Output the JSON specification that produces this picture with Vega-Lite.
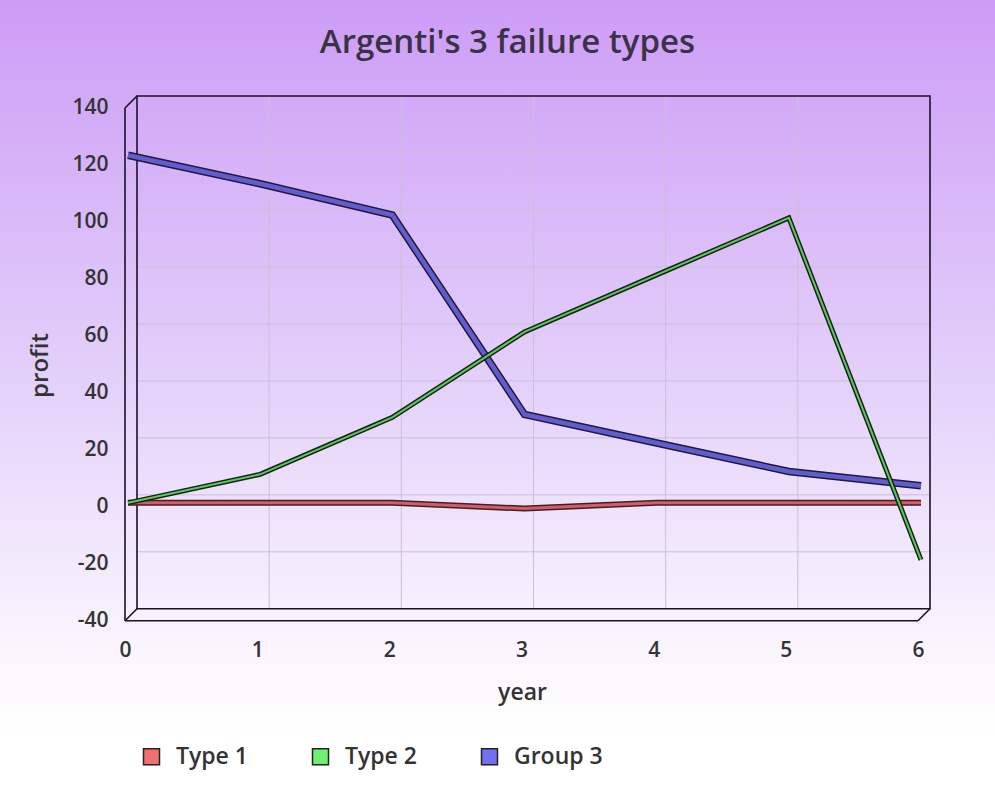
{
  "$schema": "https://vega.github.io/schema/vega-lite/v6.json",
  "width": 995,
  "height": 800,
  "autosize": {"type": "none"},
  "padding": 0,
  "background": "#ffffff",
  "title": {"text": "Argenti's 3 failure types", "anchor": "middle", "frame": "group", "baseline": "alphabetic", "offset": 0, "dy": 86, "dx": 10, "fontSize": 33, "font": "Open Sans", "fontWeight": 600, "color": "#3a3345"},
  "view": {
    "stroke": null,
    "fill": {"gradient": "linear", "x1": 0, "y1": 0, "x2": 0, "y2": 1,
      "stops": [
        {"offset": 0, "color": "#cc9cf6"},
        {"offset": 0.5, "color": "#e5d3fa"},
        {"offset": 0.78, "color": "#f8f2fd"},
        {"offset": 0.92, "color": "#ffffff"},
        {"offset": 1, "color": "#ffffff"}
      ]}
  },
  "data": {"values": [
    {"year": 0, "series": "Type 1", "profit": 0},
    {"year": 1, "series": "Type 1", "profit": 0},
    {"year": 2, "series": "Type 1", "profit": 0},
    {"year": 3, "series": "Type 1", "profit": -2},
    {"year": 4, "series": "Type 1", "profit": 0},
    {"year": 5, "series": "Type 1", "profit": 0},
    {"year": 6, "series": "Type 1", "profit": 0},
    {"year": 0, "series": "Type 2", "profit": 0},
    {"year": 1, "series": "Type 2", "profit": 10},
    {"year": 2, "series": "Type 2", "profit": 30},
    {"year": 3, "series": "Type 2", "profit": 60},
    {"year": 4, "series": "Type 2", "profit": 80},
    {"year": 5, "series": "Type 2", "profit": 100},
    {"year": 6, "series": "Type 2", "profit": -20},
    {"year": 0, "series": "Group 3", "profit": 122},
    {"year": 1, "series": "Group 3", "profit": 112},
    {"year": 2, "series": "Group 3", "profit": 101},
    {"year": 3, "series": "Group 3", "profit": 31},
    {"year": 4, "series": "Group 3", "profit": 21},
    {"year": 5, "series": "Group 3", "profit": 11},
    {"year": 6, "series": "Group 3", "profit": 6}
  ]},
  "layer": [
    {
      "data": {"values": [{"year": 1}, {"year": 2}, {"year": 3}, {"year": 4}, {"year": 5}]},
      "mark": {"type": "rule", "color": "#c9bfd6", "strokeWidth": 1, "xOffset": 12, "yOffset": -12, "y2Offset": -12},
      "encoding": {
        "x": {"field": "year", "type": "quantitative", "scale": {"domain": [-0.9458, 6.5826], "nice": false, "zero": false}},
        "y": {"datum": -40, "type": "quantitative", "scale": {"domain": [-102.9, 177.9], "nice": false, "zero": false}},
        "y2": {"datum": 140}
      }
    },
    {
      "data": {"values": [{"profit": -20}, {"profit": 0}, {"profit": 20}, {"profit": 40}, {"profit": 60}, {"profit": 80}, {"profit": 100}, {"profit": 120}]},
      "mark": {"type": "rule", "color": "#c9bfd6", "strokeWidth": 1, "xOffset": 12, "x2Offset": 12, "yOffset": -12},
      "encoding": {
        "y": {"field": "profit", "type": "quantitative"},
        "x": {"datum": 0, "type": "quantitative"},
        "x2": {"datum": 6}
      }
    },
    {
      "data": {"values": [{}]},
      "mark": {"type": "rect", "fill": null, "stroke": "#1c1228", "strokeWidth": 1.6, "xOffset": 12, "x2Offset": 12, "yOffset": -12, "y2Offset": -12},
      "encoding": {
        "x": {"datum": 0, "type": "quantitative"},
        "x2": {"datum": 6},
        "y": {"datum": -40, "type": "quantitative"},
        "y2": {"datum": 140}
      }
    },
    {
      "data": {"values": [{}]},
      "mark": {"type": "rule", "color": "#1c1228", "strokeWidth": 1.6},
      "encoding": {
        "x": {"datum": 0, "type": "quantitative"},
        "y": {"datum": -40, "type": "quantitative"},
        "y2": {"datum": 140}
      }
    },
    {
      "data": {"values": [{}]},
      "mark": {"type": "rule", "color": "#1c1228", "strokeWidth": 1.6},
      "encoding": {
        "y": {"datum": -40, "type": "quantitative"},
        "x": {"datum": 0, "type": "quantitative"},
        "x2": {"datum": 6}
      }
    },
    {
      "data": {"values": [{}]},
      "mark": {"type": "rule", "color": "#1c1228", "strokeWidth": 1.6, "x2Offset": 12, "y2Offset": -12},
      "encoding": {
        "x": {"datum": 0, "type": "quantitative"},
        "x2": {"datum": 0},
        "y": {"datum": 140, "type": "quantitative"},
        "y2": {"datum": 140}
      }
    },
    {
      "data": {"values": [{}]},
      "mark": {"type": "rule", "color": "#1c1228", "strokeWidth": 1.6, "x2Offset": 12, "y2Offset": -12},
      "encoding": {
        "x": {"datum": 0, "type": "quantitative"},
        "x2": {"datum": 0},
        "y": {"datum": -40, "type": "quantitative"},
        "y2": {"datum": -40}
      }
    },
    {
      "data": {"values": [{}]},
      "mark": {"type": "rule", "color": "#1c1228", "strokeWidth": 1.6, "x2Offset": 12, "y2Offset": -12},
      "encoding": {
        "x": {"datum": 6, "type": "quantitative"},
        "x2": {"datum": 6},
        "y": {"datum": -40, "type": "quantitative"},
        "y2": {"datum": -40}
      }
    },
    {
      "transform": [{"filter": "false"}],
      "mark": {"type": "square", "filled": true, "strokeWidth": 1.5, "opacity": 1},
      "encoding": {
        "x": {"field": "year", "type": "quantitative"},
        "y": {"field": "profit", "type": "quantitative"},
        "stroke": {"field": "series", "type": "nominal",
          "scale": {"domain": ["Type 1", "Type 2", "Group 3"], "range": ["#222222", "#222222", "#222222"]},
          "legend": {"orient": "none", "legendX": 140, "legendY": 745, "direction": "horizontal", "title": null, "symbolType": "square", "symbolSize": 256, "symbolStrokeWidth": 1.5, "symbolOpacity": 1, "labelFont": "Open Sans", "labelFontSize": 23, "labelFontWeight": 600, "labelColor": "#333333", "labelOffset": 13, "columnPadding": 44, "gridAlign": "all"}},
        "fill": {"field": "series", "type": "nominal",
          "scale": {"domain": ["Type 1", "Type 2", "Group 3"], "range": ["#f07070", "#70f070", "#7070f0"]},
          "legend": {"orient": "none", "legendX": 140, "legendY": 745, "direction": "horizontal", "title": null, "symbolType": "square", "symbolSize": 256, "symbolStrokeWidth": 1.5, "symbolOpacity": 1, "labelFont": "Open Sans", "labelFontSize": 23, "labelFontWeight": 600, "labelColor": "#333333", "labelOffset": 13, "columnPadding": 44, "gridAlign": "all"}}
      }
    },
    {
      "transform": [{"filter": "datum.series === 'Type 1'"}],
      "mark": {"type": "line", "color": "#4a1c2a", "strokeWidth": 6, "xOffset": 3, "yOffset": -4},
      "encoding": {
        "x": {"field": "year", "type": "quantitative"},
        "y": {"field": "profit", "type": "quantitative"},
        "detail": {"field": "series"}
      }
    },
    {
      "transform": [{"filter": "datum.series === 'Type 1'"}],
      "mark": {"type": "line", "strokeWidth": 3, "opacity": 0.8, "xOffset": 3, "yOffset": -4},
      "encoding": {
        "x": {"field": "year", "type": "quantitative",
          "axis": {"orient": "bottom", "offset": -179, "values": [0, 1, 2, 3, 4, 5, 6], "labelExpr": "'' + datum.value", "domain": false, "ticks": false, "grid": false, "labelPadding": 18, "labelFont": "Open Sans", "labelFontSize": 21, "labelFontWeight": 600, "labelColor": "#333333", "labelFlush": false, "labelOverlap": false, "labelBound": false,
            "title": "year", "titleFont": "Open Sans", "titleFontSize": 23, "titleFontWeight": 600, "titleColor": "#333333", "titleX": 522, "titleY": 78, "titleAlign": "center", "titleBaseline": "alphabetic"}},
        "y": {"field": "profit", "type": "quantitative",
          "axis": {"orient": "left", "offset": -112, "values": [-40, -20, 0, 20, 40, 60, 80, 100, 120, 140], "labelExpr": "'' + datum.value", "domain": false, "ticks": false, "grid": false, "labelPadding": 4, "labelFont": "Open Sans", "labelFontSize": 21, "labelFontWeight": 600, "labelColor": "#333333", "labelOverlap": false, "labelBound": false, "labelFlush": false,
            "title": "profit", "titleFont": "Open Sans", "titleFontSize": 24, "titleFontWeight": 600, "titleColor": "#333333", "titleAngle": -90, "titleX": -65, "titleY": 365, "titleAlign": "center", "titleBaseline": "alphabetic"}},
        "color": {"field": "series", "type": "nominal",
          "scale": {"domain": ["Type 1", "Type 2", "Group 3"], "range": ["#f07070", "#70f070", "#7070f0"]},
          "legend": null}
      }
    },
    {
      "transform": [{"filter": "datum.series === 'Group 3'"}],
      "mark": {"type": "line", "color": "#22183e", "strokeWidth": 7.5, "xOffset": 3, "yOffset": -4},
      "encoding": {
        "x": {"field": "year", "type": "quantitative"},
        "y": {"field": "profit", "type": "quantitative"},
        "detail": {"field": "series"}
      }
    },
    {
      "transform": [{"filter": "datum.series === 'Group 3'"}],
      "mark": {"type": "line", "strokeWidth": 4.5, "opacity": 0.8, "xOffset": 3, "yOffset": -4},
      "encoding": {
        "x": {"field": "year", "type": "quantitative"},
        "y": {"field": "profit", "type": "quantitative"},
        "color": {"field": "series", "type": "nominal", "legend": null}
      }
    },
    {
      "transform": [{"filter": "datum.series === 'Type 2'"}],
      "mark": {"type": "line", "color": "#142414", "strokeWidth": 5, "xOffset": 3, "yOffset": -4},
      "encoding": {
        "x": {"field": "year", "type": "quantitative"},
        "y": {"field": "profit", "type": "quantitative"},
        "detail": {"field": "series"}
      }
    },
    {
      "transform": [{"filter": "datum.series === 'Type 2'"}],
      "mark": {"type": "line", "strokeWidth": 2, "opacity": 0.8, "xOffset": 3, "yOffset": -4},
      "encoding": {
        "x": {"field": "year", "type": "quantitative"},
        "y": {"field": "profit", "type": "quantitative"},
        "color": {"field": "series", "type": "nominal", "legend": null}
      }
    }
  ]
}
